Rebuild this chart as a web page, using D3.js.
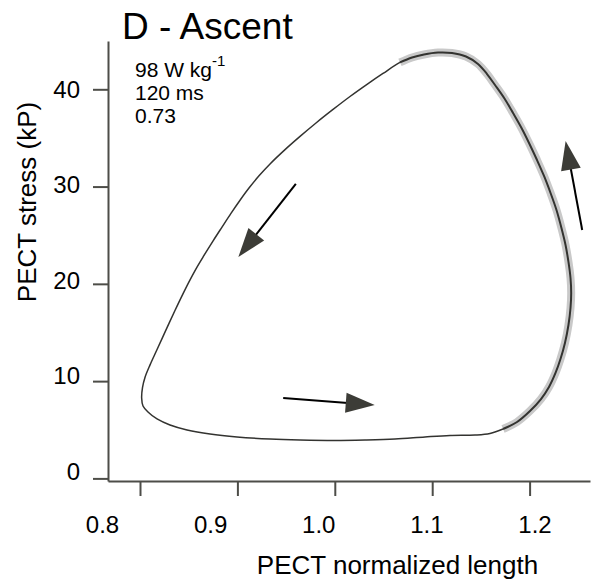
<!DOCTYPE html>
<html>
<head>
<meta charset="utf-8">
<script src="https://cdn.jsdelivr.net/npm/d3@7"></script>
<style>
  body { margin: 0; background: #fff; }
  text { font-family: "Liberation Sans", Arial, sans-serif; fill: #000; }
</style>
</head>
<body>
<div id="vis"></div>
<script>
// loop: normalized length vs stress (kP), in cycle order
const lengthVals = [
  0.8017, 0.8031, 0.8082, 0.8175, 0.8308, 0.8483, 0.8719, 0.8996, 0.9335, 0.9643,
  1.0002, 1.0310, 1.0618, 1.0926, 1.1183, 1.1439, 1.1593, 1.1727, 1.1871, 1.2004,
  1.2117, 1.2199, 1.2266, 1.2317, 1.2363, 1.2399, 1.2420, 1.2427, 1.2420, 1.2399,
  1.2369, 1.2327, 1.2276, 1.2215, 1.2148, 1.2076, 1.1999, 1.1917, 1.1830, 1.1742,
  1.1645, 1.1563, 1.1470, 1.1347, 1.1203, 1.1060, 1.0916, 1.0793, 1.0669, 1.0495,
  1.0331, 1.0156, 0.9982, 0.9807, 0.9643, 0.9489, 0.9335, 0.9222, 0.9119, 0.9027,
  0.8934, 0.8842, 0.8749, 0.8657, 0.8575, 0.8503, 0.8431, 0.8359, 0.8267, 0.8175,
  0.8103, 0.8051, 0.8026
]
const stressVals = [
  8.27, 7.44, 6.83, 6.11, 5.49, 4.98, 4.56, 4.26, 4.05, 3.95,
  3.90, 3.95, 4.05, 4.26, 4.41, 4.46, 4.62, 5.08, 5.80, 6.93,
  8.16, 9.40, 10.84, 12.27, 13.92, 15.77, 17.52, 19.06, 20.60, 22.25,
  23.99, 25.74, 27.59, 29.34, 31.09, 32.73, 34.38, 36.02, 37.56, 39.05,
  40.44, 41.57, 42.60, 43.37, 43.73, 43.78, 43.58, 43.27, 42.76, 41.63,
  40.51, 39.26, 37.93, 36.54, 35.16, 33.80, 32.33, 31.11, 29.85, 28.60,
  27.25, 25.84, 24.40, 22.92, 21.55, 20.21, 18.77, 17.26, 15.27, 13.25,
  11.67, 10.38, 9.35
]
// grey highlighted stretch, as indices into the loop
const highlightStart = 17
const highlightEnd = 48

// direction arrows: from -> tip, in data units
const arrowFromX = [0.947, 1.254, 0.960]
const arrowFromY = [8.27, 25.54, 30.27]
const arrowToX = [1.041, 1.237, 0.901]
const arrowToY = [7.55, 34.69, 22.76]

const xTicks = [0.8, 0.9, 1.0, 1.1, 1.2]
const yTicks = [0, 10, 20, 30, 40]
const notes = ["98 W kg", "120 ms", "0.73"]

const W = 592, H = 585

const xScale = d3.scaleLinear().domain([0.8, 1.2]).range([140, 529.6])
const yScale = d3.scaleLinear().domain([0, 40]).range([478.4, 89.3])
// tick labels in the figure sit on their own spacing
const xLabelScale = d3.scaleLinear().domain([0.8, 1.2]).range([102.5, 535])
const yLabelScale = d3.scaleLinear().domain([0, 40]).range([471.5, 89])

const axisColor = '#4d4d48'

const svg = d3.select('#vis').append('svg')
  .attr('width', W)
  .attr('height', H)

// axes
const xAxisScale = xScale.copy()
  .domain([xScale.invert(108), xScale.invert(590)]).range([108, 590])
const yAxisScale = yScale.copy()
  .domain([yScale.invert(481), yScale.invert(41)]).range([481, 41])

svg.append('g')
  .attr('transform', 'translate(0,481)')
  .call(d3.axisBottom(xAxisScale).tickValues(xTicks).tickSize(15).tickSizeOuter(0).tickFormat(''))
svg.append('g')
  .attr('transform', 'translate(108,0)')
  .call(d3.axisLeft(yAxisScale).tickValues(yTicks).tickSize(15).tickSizeOuter(0).tickFormat(''))

svg.selectAll('.domain, .tick line')
  .attr('stroke', axisColor)
  .attr('stroke-width', 2)

svg.selectAll('.x-lab')
  .data(xTicks)
  .enter().append('text')
  .attr('class', 'x-lab')
  .attr('x', d => xLabelScale(d))
  .attr('y', 533)
  .attr('text-anchor', 'middle')
  .style('font-size', '24px')
  .text(d => d.toFixed(1))

svg.selectAll('.y-lab')
  .data(yTicks)
  .enter().append('text')
  .attr('class', 'y-lab')
  .attr('x', 80)
  .attr('y', d => yLabelScale(d) + 8.5)
  .attr('text-anchor', 'end')
  .style('font-size', '24px')
  .text(d => d)

// axis titles
svg.append('text')
  .attr('x', 397.5)
  .attr('y', 574)
  .attr('text-anchor', 'middle')
  .style('font-size', '26px')
  .text('PECT normalized length')

svg.append('text')
  .attr('transform', 'translate(36,202) rotate(-90)')
  .attr('text-anchor', 'middle')
  .style('font-size', '26px')
  .text('PECT stress (kP)')

// title
svg.append('text')
  .attr('x', 122)
  .attr('y', 39)
  .style('font-size', '37px')
  .text('D - Ascent')

// power / duration / ratio notes
const noteText = svg.selectAll('.note')
  .data(notes)
  .enter().append('text')
  .attr('class', 'note')
  .attr('x', 135)
  .attr('y', (d, i) => 77 + i * 23)
  .style('font-size', '21px')
  .text(d => d)
noteText.filter((d, i) => i === 0)
  .append('tspan')
  .attr('dy', -11)
  .style('font-size', '15px')
  .text('-1')

// loop
const pts = lengthVals.map((v, i) => [xScale(v), yScale(stressVals[i])])

svg.append('path')
  .attr('d', d3.line().curve(d3.curveCatmullRomClosed.alpha(0.5))(pts))
  .attr('fill', 'none')
  .attr('stroke', '#333330')
  .attr('stroke-width', 1.5)

const hi = pts.slice(highlightStart, highlightEnd + 1)
const hiLine = d3.line().curve(d3.curveCatmullRom.alpha(0.5))

svg.append('path')
  .attr('d', hiLine(hi))
  .attr('fill', 'none')
  .attr('stroke', '#c9c9c9')
  .attr('stroke-width', 8)

svg.append('path')
  .attr('d', hiLine(hi))
  .attr('fill', 'none')
  .attr('stroke', '#333330')
  .attr('stroke-width', 2)

// arrows
const headLen = 29, headHalf = 10
arrowFromX.forEach((fx, i) => {
  const x0 = xScale(fx), y0 = yScale(arrowFromY[i])
  const x1 = xScale(arrowToX[i]), y1 = yScale(arrowToY[i])
  const len = Math.hypot(x1 - x0, y1 - y0)
  const ux = (x1 - x0) / len, uy = (y1 - y0) / len
  const bx = x1 - ux * headLen, by = y1 - uy * headLen

  svg.append('line')
    .attr('x1', x0).attr('y1', y0)
    .attr('x2', bx + ux * 2).attr('y2', by + uy * 2)
    .attr('stroke', '#000')
    .attr('stroke-width', 2)

  svg.append('path')
    .attr('d', `M${x1},${y1}L${bx - uy * headHalf},${by + ux * headHalf}L${bx + uy * headHalf},${by - ux * headHalf}Z`)
    .attr('fill', '#3c3c37')
})
</script>
</body>
</html>
